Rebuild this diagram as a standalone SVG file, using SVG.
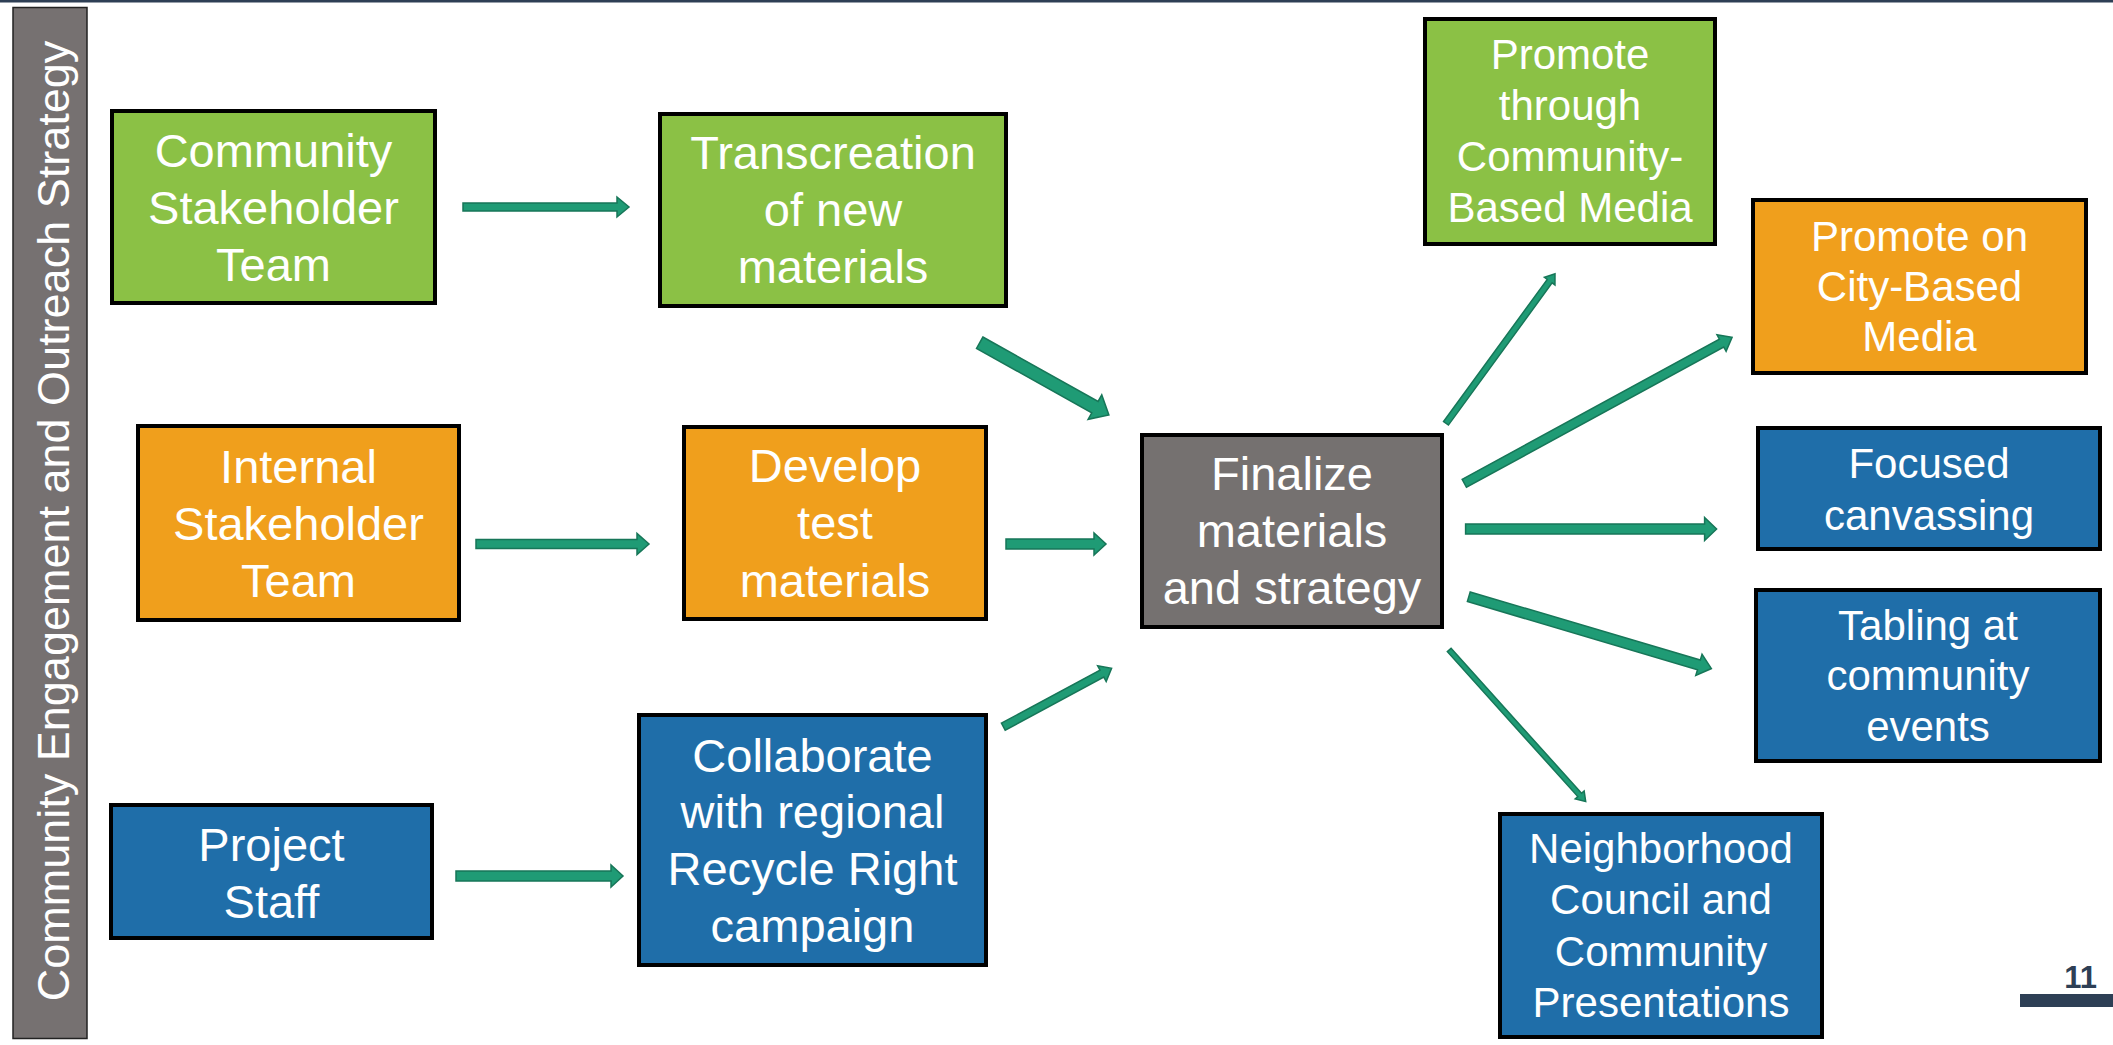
<svg xmlns="http://www.w3.org/2000/svg" width="2113" height="1045" viewBox="0 0 2113 1045">
<style>
.box{stroke:#000;stroke-width:4}
.g{fill:#8BC145}.o{fill:#F09F1C}.b{fill:#1F6EA9}.k{fill:#757170}
.t{font-family:"Liberation Sans",Arial,sans-serif;fill:#fff;text-anchor:middle}
.t47{font-size:47px}.t42{font-size:42px}
.arr{fill:#1F9B75;stroke:#177658;stroke-width:1.5;stroke-linejoin:miter}
</style>
<rect width="2113" height="1045" fill="#fff"/>
<rect x="0" y="0" width="2113" height="2.5" fill="#2E3F55"/>

<g id="side-label">
<rect x="13" y="7.5" width="74" height="1031" fill="#767171" stroke="#222" stroke-width="1.5"/>
<text class="t" font-size="45" transform="translate(69,521) rotate(-90)">Community Engagement and Outreach Strategy</text>
</g>

<g id="community-stakeholder-team">
<rect class="box g" x="112" y="111" width="323" height="192"/>
<text class="t t47" x="273.5" y="167">Community</text>
<text class="t t47" x="273.5" y="224">Stakeholder</text>
<text class="t t47" x="273.5" y="281">Team</text>
</g>
<g id="transcreation">
<rect class="box g" x="660" y="114" width="346" height="192"/>
<text class="t t47" x="833" y="169">Transcreation</text>
<text class="t t47" x="833" y="226">of new</text>
<text class="t t47" x="833" y="283">materials</text>
</g>
<g id="internal-stakeholder-team">
<rect class="box o" x="138" y="426" width="321" height="194"/>
<text class="t t47" x="298.5" y="483">Internal</text>
<text class="t t47" x="298.5" y="540">Stakeholder</text>
<text class="t t47" x="298.5" y="597">Team</text>
</g>
<g id="develop-test-materials">
<rect class="box o" x="684" y="427" width="302" height="192"/>
<text class="t t47" x="835" y="482">Develop</text>
<text class="t t47" x="835" y="539">test</text>
<text class="t t47" x="835" y="597">materials</text>
</g>
<g id="project-staff">
<rect class="box b" x="111" y="805" width="321" height="133"/>
<text class="t t47" x="271.5" y="861">Project</text>
<text class="t t47" x="271.5" y="918">Staff</text>
</g>
<g id="collaborate">
<rect class="box b" x="639" y="715" width="347" height="250"/>
<text class="t t47" x="812.5" y="772">Collaborate</text>
<text class="t t47" x="812.5" y="828">with regional</text>
<text class="t t47" x="812.5" y="885">Recycle Right</text>
<text class="t t47" x="812.5" y="942">campaign</text>
</g>
<g id="finalize">
<rect class="box k" x="1142" y="435" width="300" height="192"/>
<text class="t t47" x="1292" y="490">Finalize</text>
<text class="t t47" x="1292" y="547">materials</text>
<text class="t t47" x="1292" y="604">and strategy</text>
</g>
<g id="promote-community-media">
<rect class="box g" x="1425" y="19" width="290" height="225"/>
<text class="t t42" x="1570" y="69">Promote</text>
<text class="t t42" x="1570" y="120">through</text>
<text class="t t42" x="1570" y="171">Community-</text>
<text class="t t42" x="1570" y="222">Based Media</text>
</g>
<g id="promote-city-media">
<rect class="box o" x="1753" y="200" width="333" height="173"/>
<text class="t t42" x="1919.5" y="251">Promote on</text>
<text class="t t42" x="1919.5" y="301">City-Based</text>
<text class="t t42" x="1919.5" y="351">Media</text>
</g>
<g id="focused-canvassing">
<rect class="box b" x="1758" y="428" width="342" height="121"/>
<text class="t t42" x="1929" y="478">Focused</text>
<text class="t t42" x="1929" y="530">canvassing</text>
</g>
<g id="tabling">
<rect class="box b" x="1756" y="590" width="344" height="171"/>
<text class="t t42" x="1928" y="640">Tabling at</text>
<text class="t t42" x="1928" y="690">community</text>
<text class="t t42" x="1928" y="741">events</text>
</g>
<g id="neighborhood-council">
<rect class="box b" x="1500" y="814" width="322" height="223"/>
<text class="t t42" x="1661" y="863">Neighborhood</text>
<text class="t t42" x="1661" y="914">Council and</text>
<text class="t t42" x="1661" y="966">Community</text>
<text class="t t42" x="1661" y="1017">Presentations</text>
</g>

<g id="connectors">
<polygon class="arr" transform="translate(463,207)" points="0,-4 154,-4 154,-10 166,0 154,10 154,4 0,4"/>
<polygon class="arr" transform="translate(476,544)" points="0,-4.5 161,-4.5 161,-10.5 173,0 161,10.5 161,4.5 0,4.5"/>
<polygon class="arr" transform="translate(1006,544)" points="0,-5 88,-5 88,-11 100,0 88,11 88,5 0,5"/>
<polygon class="arr" transform="translate(456,876)" points="0,-5 155,-5 155,-11 167,0 155,11 155,5 0,5"/>
<polygon class="arr" transform="translate(979.7,342.7) rotate(29.2)" points="0,-6.5 132,-6.5 132,-14 148,0 132,14 132,6.5 0,6.5"/>
<polygon class="arr" transform="translate(1003.3,726.7) rotate(-28.3)" points="0,-4 112,-4 112,-9 123,0 112,9 112,4 0,4"/>
<polygon class="arr" transform="translate(1446,423.3) rotate(-53.9)" points="0,-3 176,-3 176,-6.5 185,0 176,6.5 176,3 0,3"/>
<polygon class="arr" transform="translate(1464.3,483.3) rotate(-28.6)" points="0,-4.5 293,-4.5 293,-9.5 305,0 293,9.5 293,4.5 0,4.5"/>
<polygon class="arr" transform="translate(1465.6,529)" points="0,-5 239,-5 239,-11.5 251,0 239,11.5 239,5 0,5"/>
<polygon class="arr" transform="translate(1468.8,596.7) rotate(16.5)" points="0,-5 240,-5 240,-11 253,0 240,11 240,5 0,5"/>
<polygon class="arr" transform="translate(1449.2,650) rotate(48)" points="0,-2.5 195,-2.5 195,-6 204,0 195,6 195,2.5 0,2.5"/>
</g>

<g id="page-number">
<text x="2097" y="988" font-family="'Liberation Sans',Arial,sans-serif" font-weight="bold" font-size="31" fill="#2E3F55" text-anchor="end">11</text>
<rect x="2020" y="994" width="93" height="13" fill="#2E3F55"/>
</g>
</svg>
